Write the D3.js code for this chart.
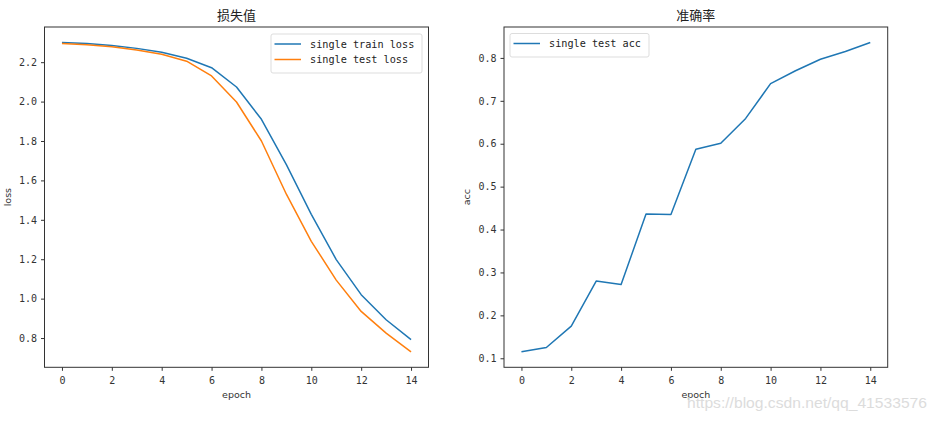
<!DOCTYPE html>
<html><head><meta charset="utf-8">
<script src="https://cdn.jsdelivr.net/npm/d3@7"></script>
<style>
body{margin:0;background:#fff;}
svg{display:block;}
.tick text{font-family:"DejaVu Sans Mono","Liberation Mono",monospace;font-size:10px;fill:#333;}
</style></head>
<body>
<svg id="c" width="940" height="422"></svg>
<script>
const epochs = [0,1,2,3,4,5,6,7,8,9,10,11,12,13,14];
const trainLoss = [2.300,2.295,2.285,2.270,2.250,2.220,2.172,2.074,1.910,1.680,1.428,1.198,1.020,0.893,0.792];
const testLoss  = [2.295,2.288,2.278,2.262,2.240,2.205,2.130,1.998,1.800,1.530,1.291,1.094,0.935,0.825,0.730];
const testAcc   = [0.115,0.125,0.175,0.280,0.272,0.436,0.435,0.587,0.601,0.659,0.740,0.770,0.797,0.815,0.836];
const xTicks = [0,2,4,6,8,10,12,14];
const lossTicks = [0.8,1.0,1.2,1.4,1.6,1.8,2.0,2.2];
const accTicks = [0.1,0.2,0.3,0.4,0.5,0.6,0.7,0.8];
const titles = ["损失值","准确率"];
const lossLegend = ["single train loss","single test loss"];
const accLegend = ["single test acc"];
const colors = ["#1f77b4","#ff7f0e"];

const svg = d3.select("#c");
svg.append("rect").attr("width",940).attr("height",422).attr("fill","#fff");

function pad(ext){const r=ext[1]-ext[0];return [ext[0]-0.05*r, ext[1]+0.05*r];}

function panel(opt){
  const {x0,x1,y0,y1,series,yTicks,fmt,title,ylabel,legend,legendPos} = opt;
  const x = d3.scaleLinear().domain(pad([0,14])).range([x0,x1]);
  const all = series.flat();
  const y = d3.scaleLinear().domain(pad(d3.extent(all))).range([y1,y0]);
  const g = svg.append("g");
  const ax = g.append("g").attr("transform",`translate(0,${y1})`)
    .call(d3.axisBottom(x).tickValues(xTicks).tickSize(3.5).tickPadding(4).tickFormat(d3.format("d")));
  const ay = g.append("g").attr("transform",`translate(${x0},0)`)
    .call(d3.axisLeft(y).tickValues(yTicks).tickSize(3.5).tickPadding(4).tickFormat(fmt));
  [ax,ay].forEach(a=>{a.select(".domain").remove();a.selectAll("line").attr("stroke","#333");});
  ax.selectAll("text").attr("dy","0.9em");
  const line = d3.line().x((d,i)=>x(epochs[i])).y(d=>y(d));
  series.forEach((s,i)=>{
    g.append("path").datum(s).attr("d",line).attr("fill","none")
     .attr("stroke",colors[i]).attr("stroke-width",1.5).attr("stroke-linejoin","round");
  });
  g.append("rect").attr("x",x0).attr("y",y0).attr("width",x1-x0).attr("height",y1-y0)
   .attr("fill","none").attr("stroke","#333").attr("stroke-width",1);
  g.append("text").attr("x",(x0+x1)/2).attr("y",y0-7).attr("text-anchor","middle")
   .attr("font-family","'Noto Sans CJK SC',sans-serif").attr("font-size",13).attr("fill","#222").text(title);
  g.append("text").attr("x",(x0+x1)/2).attr("y",398).attr("text-anchor","middle")
   .attr("font-family","'DejaVu Sans',sans-serif").attr("font-size",9.5).attr("fill","#333").text("epoch");
  g.append("text").attr("transform",`translate(${x0-34},${(y0+y1)/2}) rotate(-90)`).attr("text-anchor","middle")
   .attr("font-family","'DejaVu Sans',sans-serif").attr("font-size",9.5).attr("fill","#333").text(ylabel);
  // legend
  const [lx,ly,lw] = legendPos;
  const lh = 8 + legend.length*15.5;
  const lg = g.append("g");
  lg.append("rect").attr("x",lx).attr("y",ly).attr("width",lw).attr("height",lh).attr("rx",2)
    .attr("fill","#fff").attr("fill-opacity",0.8).attr("stroke","#ddd").attr("stroke-width",1);
  legend.forEach((t,i)=>{
    const yy = ly+10+i*15.5;
    lg.append("line").attr("x1",lx+3.5).attr("x2",lx+30).attr("y1",yy).attr("y2",yy)
      .attr("stroke",colors[i]).attr("stroke-width",1.5);
    lg.append("text").attr("x",lx+39).attr("y",yy).attr("dy","0.35em")
      .attr("font-family","'DejaVu Sans Mono','Liberation Mono',monospace").attr("font-size",10.2)
      .attr("fill","#222").text(t);
  });
}

panel({x0:44.5,x1:428.5,y0:27,y1:367.3,series:[trainLoss,testLoss],yTicks:lossTicks,fmt:d3.format(".1f"),
  title:titles[0],ylabel:"loss",legend:lossLegend,legendPos:[271,34,151]});
panel({x0:504,x1:887.7,y0:27,y1:367.3,series:[testAcc],yTicks:accTicks,fmt:d3.format(".1f"),
  title:titles[1],ylabel:"acc",legend:accLegend,legendPos:[510,33.5,139]});

svg.append("text").attr("x",687).attr("y",408).attr("textLength",240).attr("lengthAdjust","spacingAndGlyphs")
  .attr("font-family","'Liberation Sans',Arial,sans-serif").attr("font-size",15.5).attr("fill","#dcdcdc")
  .text("https://blog.csdn.net/qq_41533576");
</script>
</body></html>
